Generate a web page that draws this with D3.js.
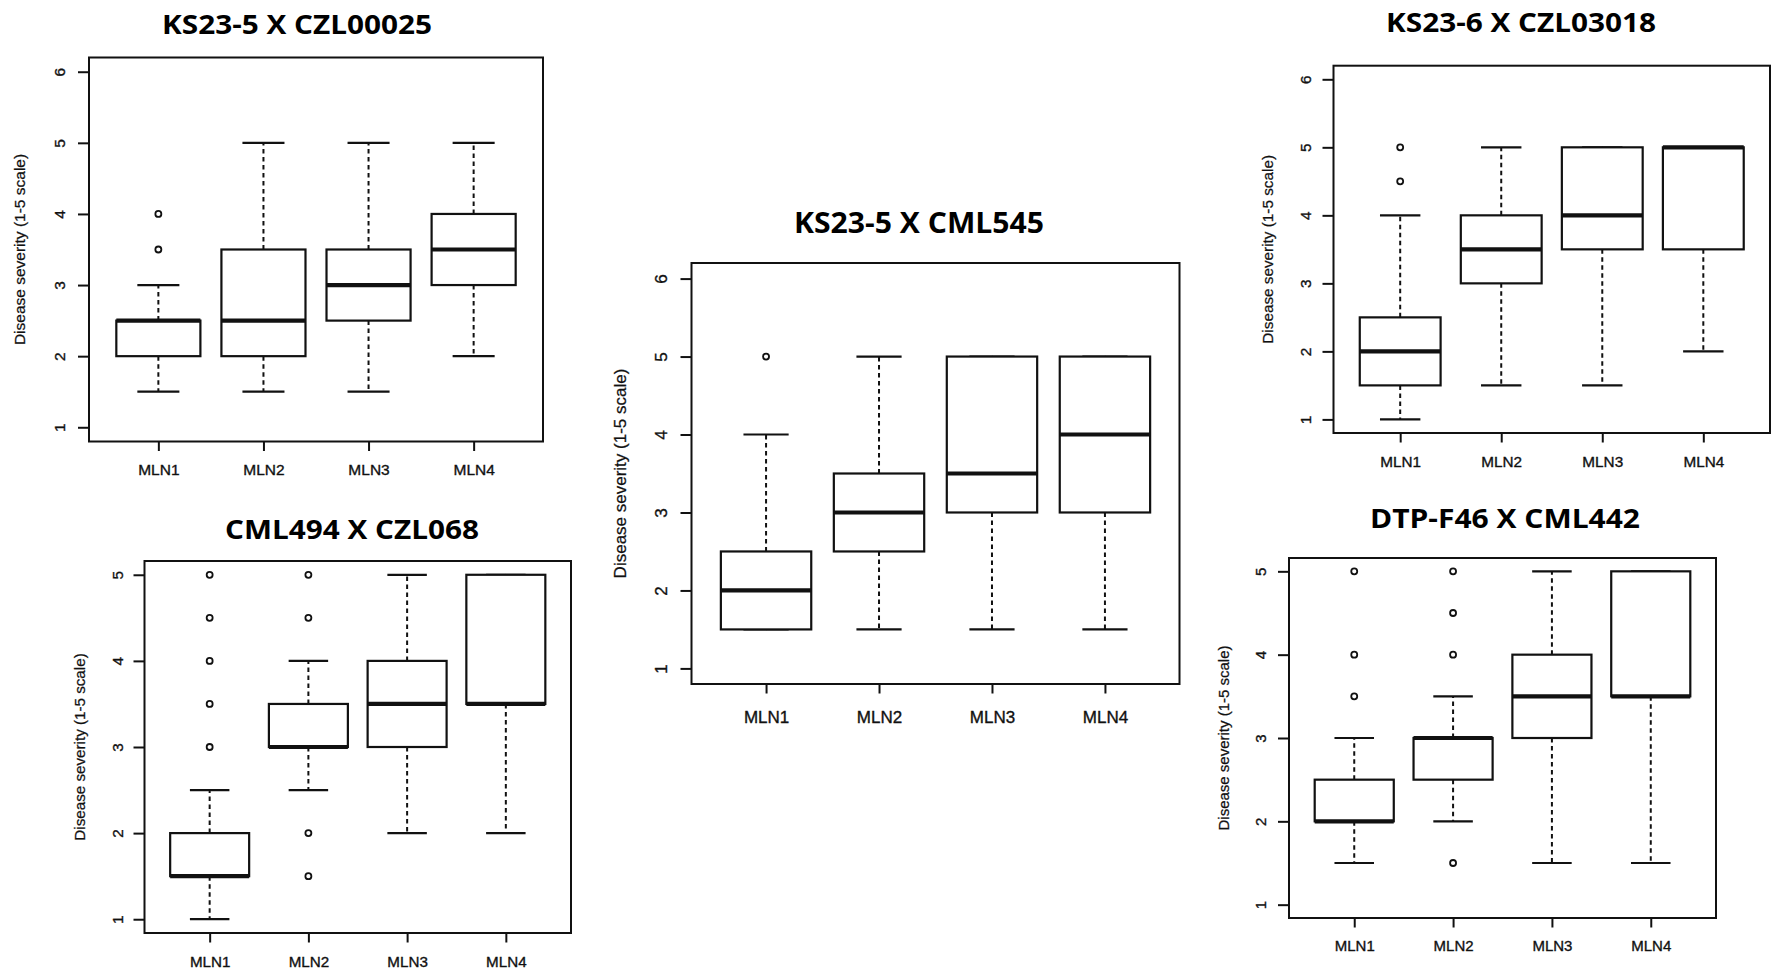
<!DOCTYPE html>
<html>
<head>
<meta charset="utf-8">
<script src="https://cdn.jsdelivr.net/npm/d3@7"></script>
<style>
  body { margin: 0; background: #fff; }
  svg { display: block; }
</style>
</head>
<body>
<svg id="chart" width="1777" height="973"></svg>
<script>
// ---------------- DATA ----------------
const groups = ["MLN1", "MLN2", "MLN3", "MLN4"];
const titles = ["KS23-5 X CZL00025", "KS23-5 X CML545", "KS23-6 X CZL03018", "CML494 X CZL068", "DTP-F46 X CML442"];
const yAxisTitle = "Disease severity (1-5 scale)";
const yTicksSix = [1, 2, 3, 4, 5, 6];
const yTicksFive = [1, 2, 3, 4, 5];

// per group: [lower whisker, Q1, median, Q3, upper whisker]
const ks235Czl00025Stats = [[1.5, 2, 2.5, 2.5, 3], [1.5, 2, 2.5, 3.5, 5], [1.5, 2.5, 3, 3.5, 5], [2, 3, 3.5, 4, 5]];
const ks235Czl00025Outliers = [[3.5, 4], [], [], []];

const ks235Cml545Stats = [[1.5, 1.5, 2, 2.5, 4], [1.5, 2.5, 3, 3.5, 5], [1.5, 3, 3.5, 5, 5], [1.5, 3, 4, 5, 5]];
const ks235Cml545Outliers = [[5], [], [], []];

const ks236Czl03018Stats = [[1, 1.5, 2, 2.5, 4], [1.5, 3, 3.5, 4, 5], [1.5, 3.5, 4, 5, 5], [2, 3.5, 5, 5, 5]];
const ks236Czl03018Outliers = [[4.5, 5], [], [], []];

const cml494Czl068Stats = [[1, 1.5, 1.5, 2, 2.5], [2.5, 3, 3, 3.5, 4], [2, 3, 3.5, 4, 5], [2, 3.5, 3.5, 5, 5]];
const cml494Czl068Outliers = [[3, 3.5, 4, 4.5, 5], [1.5, 2, 4.5, 5], [], []];

const dtpF46Cml442Stats = [[1.5, 2, 2, 2.5, 3], [2, 2.5, 3, 3, 3.5], [1.5, 3, 3.5, 4, 5], [1.5, 3.5, 3.5, 5, 5]];
const dtpF46Cml442Outliers = [[3.5, 4, 5], [1.5, 4, 4.5, 5], [], []];

const panelData = [
  { title: titles[0], stats: ks235Czl00025Stats, outliers: ks235Czl00025Outliers, yTicks: yTicksSix },
  { title: titles[1], stats: ks235Cml545Stats, outliers: ks235Cml545Outliers, yTicks: yTicksSix },
  { title: titles[2], stats: ks236Czl03018Stats, outliers: ks236Czl03018Outliers, yTicks: yTicksSix },
  { title: titles[3], stats: cml494Czl068Stats, outliers: cml494Czl068Outliers, yTicks: yTicksFive },
  { title: titles[4], stats: dtpF46Cml442Stats, outliers: dtpF46Cml442Outliers, yTicks: yTicksFive }
];

// ---------------- LAYOUT ----------------
const layout = [
  { L: 89,     R: 543,    T: 57.5,  B: 441.5, tx: 297,  ty: 33.5, tw: 270, tfs: 27, fs: 15.5, tickOff: 30,   ylabOff: 69.5, xlabOff: 33 },
  { L: 691.5,  R: 1179.5, T: 263,   B: 684,   tx: 919,  ty: 233,  tw: 250, tfs: 28, fs: 17,   tickOff: 30.5, ylabOff: 72,   xlabOff: 39 },
  { L: 1333.5, R: 1770,   T: 65.7,  B: 433,   tx: 1521, ty: 31.7, tw: 270, tfs: 27, fs: 15.3, tickOff: 28.5, ylabOff: 66.5, xlabOff: 33.5 },
  { L: 144.5,  R: 571,    T: 561,   B: 933,   tx: 352,  ty: 539,  tw: 254, tfs: 27, fs: 15.2, tickOff: 27,   ylabOff: 64.5, xlabOff: 33.5 },
  { L: 1289,   R: 1716,   T: 558,   B: 918,   tx: 1505, ty: 528,  tw: 270, tfs: 27, fs: 15,   tickOff: 28.3, ylabOff: 65,   xlabOff: 32.5 }
];

const INK = "#111";
const svg = d3.select("#chart");
svg.append("rect").attr("width", 1777).attr("height", 973).attr("fill", "#fff");

panelData.forEach((p, k) => {
  const lay = layout[k];
  const g = svg.append("g");
  const lo = d3.min(p.yTicks), hi = d3.max(p.yTicks);
  const ext = (hi - lo) * 0.04;
  const x = d3.scaleLinear().domain([0.5 - 0.16, groups.length + 0.5 + 0.16]).range([lay.L, lay.R]);
  const y = d3.scaleLinear().domain([lo - ext, hi + ext]).range([lay.B, lay.T]);
  const font = "'Liberation Sans', Arial, Helvetica, sans-serif";

  // title
  g.append("text")
    .attr("x", lay.tx).attr("y", lay.ty)
    .attr("text-anchor", "middle")
    .attr("font-family", "'Open Sans', 'Liberation Sans', sans-serif")
    .attr("font-weight", "bold")
    .attr("font-size", lay.tfs)
    .attr("textLength", lay.tw)
    .attr("lengthAdjust", "spacingAndGlyphs")
    .attr("fill", "#000")
    .text(p.title);

  // boxes
  p.stats.forEach((s, i) => {
    const c = i + 1;
    const [lw, q1, md, q3, hw] = s;
    const cx = x(c);
    // whiskers (dashed)
    g.append("line").attr("x1", cx).attr("x2", cx).attr("y1", y(q3)).attr("y2", y(hw))
      .attr("stroke", INK).attr("stroke-width", 2).attr("stroke-dasharray", "4.5,3.5");
    g.append("line").attr("x1", cx).attr("x2", cx).attr("y1", y(q1)).attr("y2", y(lw))
      .attr("stroke", INK).attr("stroke-width", 2).attr("stroke-dasharray", "4.5,3.5");
    // staples
    [hw, lw].forEach(v => {
      g.append("line").attr("x1", x(c - 0.2)).attr("x2", x(c + 0.2)).attr("y1", y(v)).attr("y2", y(v))
        .attr("stroke", INK).attr("stroke-width", 2.2);
    });
    // box
    g.append("rect")
      .attr("x", x(c - 0.4)).attr("y", y(q3))
      .attr("width", x(c + 0.4) - x(c - 0.4)).attr("height", y(q1) - y(q3))
      .attr("fill", "#fff").attr("stroke", INK).attr("stroke-width", 2.2);
    // median
    g.append("line").attr("x1", x(c - 0.4)).attr("x2", x(c + 0.4)).attr("y1", y(md)).attr("y2", y(md))
      .attr("stroke", INK).attr("stroke-width", 4.2);
    // outliers
    p.outliers[i].forEach(v => {
      g.append("circle").attr("cx", cx).attr("cy", y(v)).attr("r", 3)
        .attr("fill", "none").attr("stroke", INK).attr("stroke-width", 1.8);
    });
  });

  // frame
  g.append("rect").attr("x", lay.L).attr("y", lay.T)
    .attr("width", lay.R - lay.L).attr("height", lay.B - lay.T)
    .attr("fill", "none").attr("stroke", INK).attr("stroke-width", 2);

  // y axis
  const ya = g.append("g").attr("transform", `translate(${lay.L},0)`)
    .call(d3.axisLeft(y).tickValues(p.yTicks).tickSize(11).tickSizeOuter(0).tickFormat(d3.format("d")));
  ya.select(".domain").remove();
  ya.selectAll(".tick line").attr("stroke", INK).attr("stroke-width", 2);
  ya.selectAll(".tick text")
    .attr("x", null).attr("dy", "0.36em")
    .attr("text-anchor", "middle")
    .attr("transform", `translate(${-lay.tickOff},0) rotate(-90)`)
    .attr("font-family", font).attr("font-size", lay.fs).attr("fill", INK)
    .attr("stroke", INK).attr("stroke-width", 0.35);

  // x axis
  const xa = g.append("g").attr("transform", `translate(0,${lay.B})`)
    .call(d3.axisBottom(x).tickValues(groups.map((d, i) => i + 1)).tickSize(9.5).tickSizeOuter(0)
      .tickFormat(d => groups[d - 1]));
  xa.select(".domain").remove();
  xa.selectAll(".tick line").attr("stroke", INK).attr("stroke-width", 2);
  xa.selectAll(".tick text")
    .attr("y", lay.xlabOff).attr("dy", null)
    .attr("font-family", font).attr("font-size", lay.fs).attr("fill", INK)
    .attr("stroke", INK).attr("stroke-width", 0.35);

  // y axis title
  const ymid = (lay.T + lay.B) / 2;
  g.append("text")
    .attr("transform", `translate(${lay.L - lay.ylabOff},${ymid}) rotate(-90)`)
    .attr("dy", "0.36em")
    .attr("text-anchor", "middle")
    .attr("font-family", font).attr("font-size", lay.fs).attr("fill", INK)
    .attr("stroke", INK).attr("stroke-width", 0.25)
    .text(yAxisTitle);
});
</script>
</body>
</html>
